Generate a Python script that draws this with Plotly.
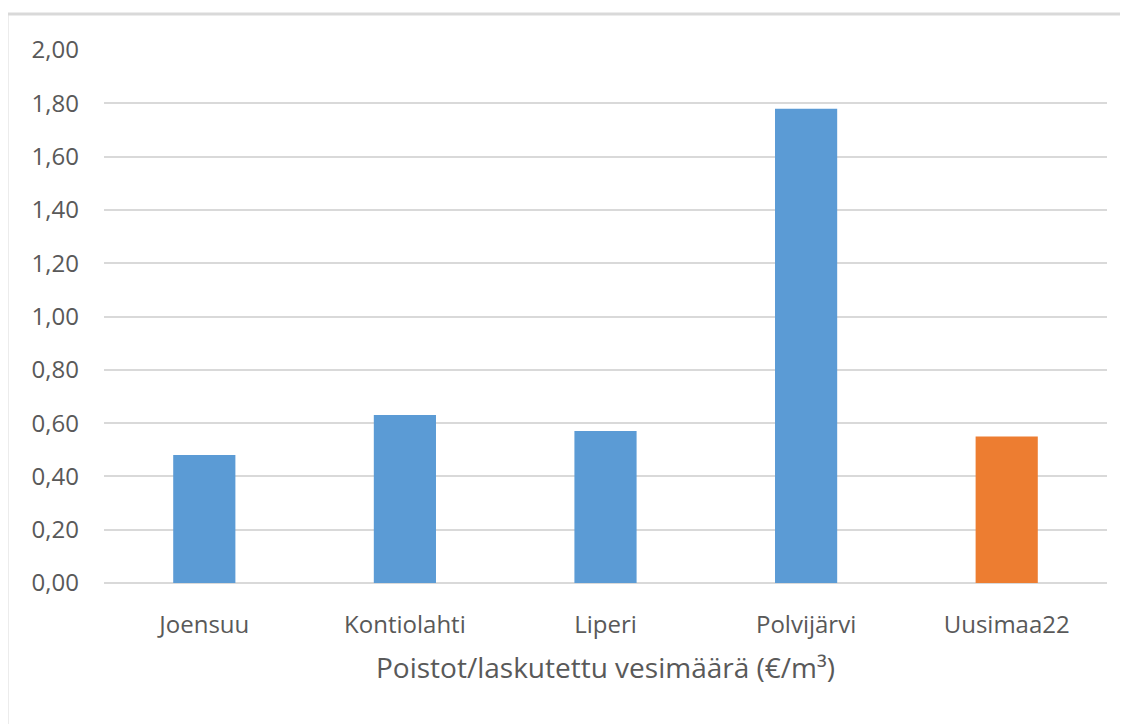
import plotly.graph_objects as go

categories = ["Joensuu", "Kontiolahti", "Liperi", "Polvijärvi", "Uusimaa22"]
values = [0.48, 0.63, 0.57, 1.78, 0.55]
bar_colors = ["#5B9BD5", "#5B9BD5", "#5B9BD5", "#5B9BD5", "#ED7D31"]
y_ticks = [0, 0.2, 0.4, 0.6, 0.8, 1.0, 1.2, 1.4, 1.6, 1.8, 2.0]
x_title = "Poistot/laskutettu vesimäärä (€/m³)"

text_color = "#595959"
font_family = "Open Sans, Liberation Sans, sans-serif"

fig = go.Figure()
fig.add_trace(
    go.Bar(
        x=categories,
        y=values,
        marker_color=bar_colors,
        marker_line_width=0,
        hoverinfo="x+y",
        showlegend=False,
    )
)

fig.update_layout(
    width=1120,
    height=716,
    paper_bgcolor="white",
    plot_bgcolor="white",
    separators=", ",
    bargap=0.69,
    margin=dict(l=96, r=21, t=42, b=141),
    font=dict(family=font_family, color=text_color),
    xaxis=dict(
        showgrid=False,
        showline=False,
        ticks="",
        tickfont=dict(size=24, color=text_color),
        ticklabelstandoff=25,
        title=dict(text=x_title, font=dict(size=28, color=text_color), standoff=19),
    ),
    yaxis=dict(
        range=[0, 2.0],
        tickvals=y_ticks,
        tickformat=".2f",
        showgrid=True,
        gridcolor="#D9D9D9",
        gridwidth=1.5,
        zeroline=True,
        zerolinecolor="#D9D9D9",
        zerolinewidth=1.5,
        showline=False,
        ticks="",
        tickfont=dict(size=24, color=text_color),
        ticklabelstandoff=24,
    ),
    shapes=[
        # chart frame (only top and left edges are visible in the crop)
        dict(type="line", xref="paper", yref="paper", x0=-0.0967, x1=1.03, y0=1.0675, y1=1.0675,
             line=dict(color="#D9D9D9", width=3)),
        dict(type="line", xref="paper", yref="paper", x0=-0.0967, x1=-0.0967, y0=1.0675, y1=-0.3,
             line=dict(color="#D9D9D9", width=3)),
    ],
)

fig.write_html("out.html")
